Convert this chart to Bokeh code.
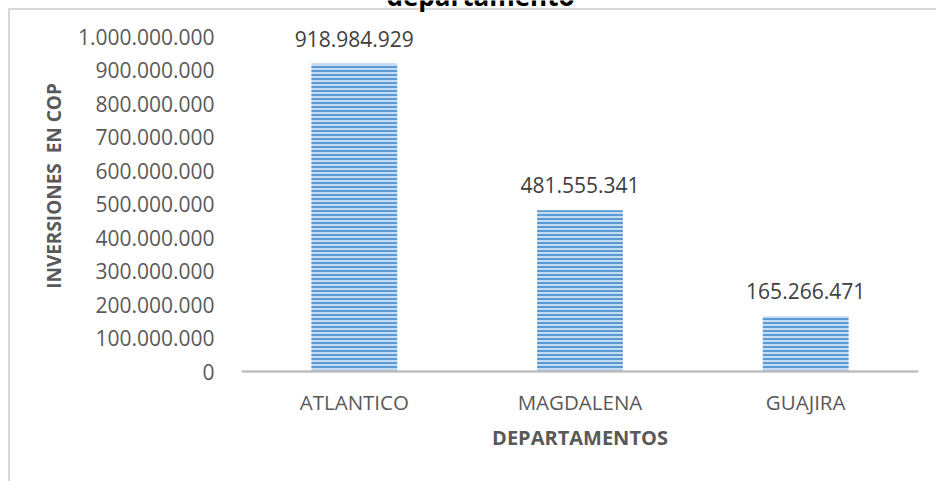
from bokeh.plotting import figure
from bokeh.models import (ColumnDataSource, FixedTicker, CustomJSTickFormatter,
                          LabelSet, Label)
from bokeh.core.properties import value
from bokeh.embed import file_html
from bokeh.resources import INLINE

# ---- data ----
departamentos = ["ATLANTICO", "MAGDALENA", "GUAJIRA"]
inversiones = [918984929, 481555341, 165266471]
y_ticks = [0, 100000000, 200000000, 300000000, 400000000, 500000000,
           600000000, 700000000, 800000000, 900000000, 1000000000]
titulo = "departamento"
titulo_x = "DEPARTAMENTOS"
titulo_y = "INVERSIONES\u00a0 EN COP"


def fmt(v):
    return f"{v:,}".replace(",", ".")


src = ColumnDataSource(dict(x=departamentos, y=inversiones,
                            lbl=[fmt(v) for v in inversiones]))

FONT = "Open Sans"
GRAY = "#595959"

# frame spans from the canvas top down to the axis; 1.000.000.000 sits ~36px below top
Y_END = 1108000000

p = figure(x_range=departamentos, y_range=(0, Y_END),
           width=936, height=481, output_backend="svg", toolbar_location=None,
           min_border_left=241, min_border_right=18, min_border_top=0,
           min_border_bottom=110)
p.outline_line_color = None
p.border_fill_color = None
p.background_fill_color = None
p.styles = {
    "background-image": "linear-gradient(#D9D9D9,#D9D9D9), linear-gradient(#D9D9D9,#D9D9D9)",
    "background-size": "100% 2px, 2px 100%",
    "background-position": "8px 8px, 8px 8px",
    "background-repeat": "no-repeat",
}
p.grid.visible = False

p.vbar(x="x", top="y", width=0.38, source=src,
       fill_color="#C6DBF1", line_color=None,
       hatch_pattern="horizontal_line", hatch_color="#5B9BD5",
       hatch_scale=4, hatch_weight=2)

labels = LabelSet(x="x", y="y", text="lbl", source=src, y_offset=25,
                  text_align="center", text_baseline="middle",
                  text_font=value(FONT), text_font_size="21px",
                  text_color="#404040")
p.add_layout(labels)

p.add_layout(Label(x=239, x_units="screen", y=1122000000, y_units="data",
                   text=titulo, text_align="center", text_baseline="alphabetic",
                   text_font=FONT, text_font_size="26px", text_font_style="bold",
                   text_color="#000000"))

# y axis
p.yaxis.ticker = FixedTicker(ticks=y_ticks)
p.yaxis.formatter = CustomJSTickFormatter(
    code='return Math.round(tick).toString().replace(/\\B(?=(\\d{3})+(?!\\d))/g, ".");')
p.yaxis.axis_line_color = None
p.yaxis.major_tick_line_color = None
p.yaxis.minor_tick_line_color = None
p.yaxis.major_label_standoff = 21
p.yaxis.major_label_text_font = FONT
p.yaxis.major_label_text_font_size = "21px"
p.yaxis.major_label_text_color = GRAY
p.yaxis.axis_label = titulo_y
p.yaxis.axis_label_text_font = FONT
p.yaxis.axis_label_text_font_size = "19px"
p.yaxis.axis_label_text_font_style = "bold"
p.yaxis.axis_label_text_color = GRAY
p.yaxis.axis_label_standoff = 8

# x axis
p.xaxis.axis_line_color = "#BFBFBF"
p.xaxis.axis_line_width = 2.5
p.xaxis.major_tick_line_color = None
p.xaxis.minor_tick_line_color = None
p.xaxis.major_label_standoff = 10
p.xaxis.major_label_text_font = FONT
p.xaxis.major_label_text_font_size = "20.5px"
p.xaxis.major_label_text_color = GRAY
p.xaxis.axis_label = titulo_x
p.xaxis.axis_label_text_font = FONT
p.xaxis.axis_label_text_font_size = "20px"
p.xaxis.axis_label_text_font_style = "bold"
p.xaxis.axis_label_text_color = GRAY
p.xaxis.axis_label_standoff = 5

open("out.html", "w").write(file_html(p, INLINE))
